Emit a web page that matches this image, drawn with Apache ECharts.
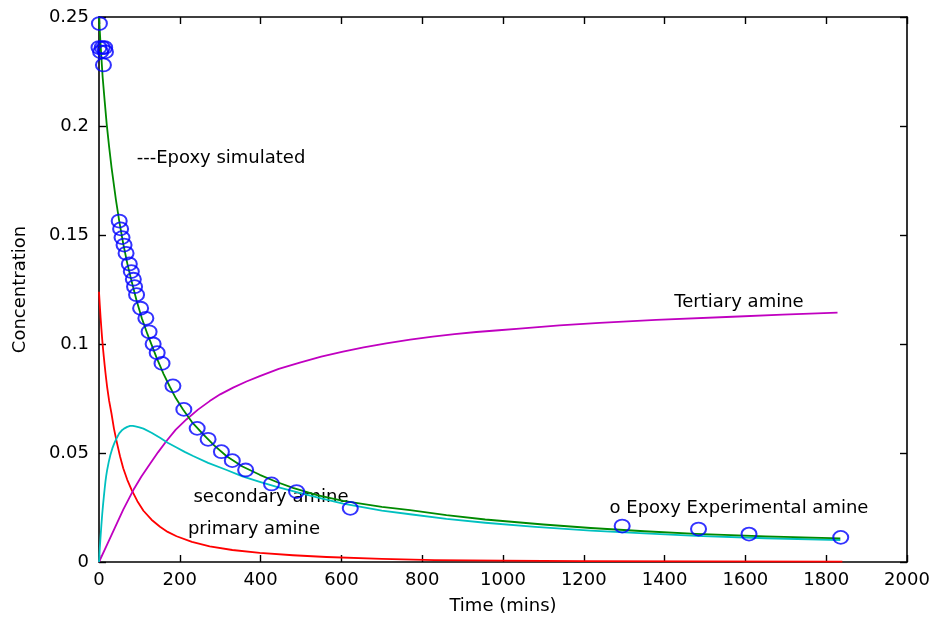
<!DOCTYPE html>
<html>
<head>
<meta charset="utf-8">
<script src="https://cdn.jsdelivr.net/npm/echarts@6/dist/echarts.min.js"></script>
<style>
html,body{margin:0;padding:0;background:#fff;}
#chart{width:934px;height:620px;}
</style>
</head>
<body>
<div id="chart"></div>
<script>
// ---- data ----
var xTicks = [0, 200, 400, 600, 800, 1000, 1200, 1400, 1600, 1800, 2000];
var yTicks = [0, 0.05, 0.1, 0.15, 0.2, 0.25];

// Epoxy simulated (green)
var epoxyT = [0, 4, 9, 14, 19, 25, 31, 42, 50, 60, 70, 80, 93, 106, 120, 143, 160, 175, 190, 208, 230, 258, 285, 316, 355, 398, 440, 480, 540, 604, 700, 770, 860, 956, 1100, 1217, 1350, 1478, 1650, 1835];
var epoxyC = [0.25, 0.237, 0.2225, 0.2115, 0.201, 0.1905, 0.181, 0.166, 0.1565, 0.146, 0.137, 0.1293, 0.120, 0.1118, 0.1045, 0.0935, 0.0862, 0.0805, 0.0752, 0.070, 0.0642, 0.0585, 0.0535, 0.0485, 0.0438, 0.040, 0.0367, 0.034, 0.0307, 0.028, 0.0253, 0.0238, 0.0215, 0.0195, 0.0172, 0.0156, 0.0141, 0.0129, 0.0118, 0.0108];

// Secondary amine (cyan)
var secT = [0, 2, 4, 6, 8, 10, 12, 14, 16, 18, 20, 24, 28, 33, 38, 44, 50, 56, 62, 70, 77, 84, 90, 100, 110, 130, 151, 170, 192, 212, 233, 270, 316, 355, 398, 440, 480, 540, 604, 700, 770, 860, 956, 1080, 1217, 1350, 1478, 1650, 1835];
var secC = [0, 0.0065, 0.012, 0.0172, 0.022, 0.0262, 0.030, 0.0336, 0.037, 0.0397, 0.042, 0.0458, 0.049, 0.0521, 0.0545, 0.0569, 0.059, 0.0603, 0.0612, 0.0620, 0.0624, 0.0624, 0.0622, 0.0618, 0.0612, 0.0593, 0.057, 0.0547, 0.0525, 0.0505, 0.0486, 0.0455, 0.0422, 0.0393, 0.0368, 0.0345, 0.0325, 0.0296, 0.0268, 0.0236, 0.0219, 0.0198, 0.018, 0.0161, 0.0144, 0.0131, 0.012, 0.0109, 0.0101];

// Primary amine (red)
var priT = [0, 2, 4, 6, 8, 10, 12, 14, 16, 18, 20, 25, 31, 37, 44, 52, 60, 70, 81, 95, 110, 130, 151, 170, 192, 230, 274, 330, 398, 480, 563, 700, 830, 1000, 1200, 1500, 1840];
var priC = [0.124, 0.1178, 0.112, 0.1068, 0.102, 0.0978, 0.094, 0.0903, 0.0868, 0.0836, 0.0805, 0.074, 0.068, 0.0612, 0.055, 0.0485, 0.043, 0.0377, 0.033, 0.0279, 0.0235, 0.0194, 0.0162, 0.0138, 0.0118, 0.0092, 0.0072, 0.0055, 0.0042, 0.0031, 0.0023, 0.0014, 0.0009, 0.0006, 0.0004, 0.0003, 0.0002];

// Tertiary amine (magenta)
var terT = [0, 20, 40, 60, 85, 105, 126, 146, 167, 190, 217, 245, 274, 300, 332, 365, 398, 445, 497, 550, 604, 655, 711, 770, 826, 880, 934, 990, 1041, 1140, 1239, 1379, 1568, 1692, 1828];
var terC = [0, 0.008, 0.016, 0.024, 0.033, 0.0392, 0.045, 0.0503, 0.0555, 0.0607, 0.0655, 0.0699, 0.0738, 0.0769, 0.080, 0.0828, 0.0853, 0.0886, 0.0915, 0.0942, 0.0965, 0.0985, 0.1003, 0.102, 0.1034, 0.1045, 0.1055, 0.1063, 0.1071, 0.1085, 0.1097, 0.1111, 0.1125, 0.1135, 0.1144];

// Epoxy experimental (blue circles)
var expT = [1, 0, 4, 8, 14, 16, 11, 50, 53.5, 57, 62, 67, 75, 80, 85, 88, 93, 103, 116, 124, 134, 144, 156, 183, 210, 243, 270, 303, 330, 363, 427, 489, 622, 1295, 1484, 1609, 1836];
var expC = [0.247, 0.236, 0.234, 0.236, 0.236, 0.234, 0.228, 0.1564, 0.1528, 0.1488, 0.1454, 0.1416, 0.1367, 0.1332, 0.1297, 0.1263, 0.1226, 0.1164, 0.1118, 0.1056, 0.100, 0.096, 0.0911, 0.0808, 0.070, 0.0613, 0.0563, 0.0506, 0.0465, 0.0422, 0.0358, 0.0323, 0.0246, 0.0165, 0.0151, 0.0128, 0.0113];

var xTitle = 'Time (mins)';
var yTitle = 'Concentration';

function zip(a, b) { return a.map(function (v, i) { return [v, b[i]]; }); }

var FONT = 'DejaVu Sans';
var FS = 18;
var chart = echarts.init(document.getElementById('chart'), null, {renderer: 'canvas'});

function lineSeries(name, t, c, color) {
  return {
    name: name, type: 'line', data: zip(t, c), showSymbol: false, symbol: 'none',
    smooth: false,
    lineStyle: {color: color, width: 1.8, join: 'round'}, z: 2, animation: false
  };
}

var axisCommon = {
  min: 0,
  axisLine: {show: true, onZero: false, lineStyle: {color: '#000', width: 1.6}},
  axisTick: {show: true, inside: true, length: 7, lineStyle: {color: '#000', width: 1.4}},
  splitLine: {show: false}
};

var option = {
  backgroundColor: '#fff',
  animation: false,
  grid: {left: 99, right: 27, top: 17, bottom: 58, containLabel: false},
  xAxis: [
    Object.assign({}, axisCommon, {
      type: 'value', max: 2000, interval: 200, position: 'bottom',
      axisLabel: {show: true, color: '#000', fontFamily: FONT, fontSize: FS, margin: 9,
        formatter: function (v) { return xTicks.indexOf(v) >= 0 ? String(v) : ''; }},
      name: xTitle, nameLocation: 'middle', nameGap: 35,
      nameTextStyle: {color: '#000', fontFamily: FONT, fontSize: FS}
    }),
    Object.assign({}, axisCommon, {
      type: 'value', max: 2000, interval: 200, position: 'top',
      axisLabel: {show: false}
    })
  ],
  yAxis: [
    Object.assign({}, axisCommon, {
      type: 'value', max: 0.25, interval: 0.05, position: 'left',
      axisLabel: {show: true, color: '#000', fontFamily: FONT, fontSize: FS, margin: 10,
        formatter: function (v) {
          var r = Math.round(v * 100) / 100;
          for (var i = 0; i < yTicks.length; i++) if (Math.abs(yTicks[i] - r) < 1e-9) return String(yTicks[i]);
          return '';
        }},
      name: yTitle, nameLocation: 'middle', nameGap: 70,
      nameTextStyle: {color: '#000', fontFamily: FONT, fontSize: FS}
    }),
    Object.assign({}, axisCommon, {
      type: 'value', max: 0.25, interval: 0.05, position: 'right',
      axisLabel: {show: false}
    })
  ],
  series: [
    lineSeries('Primary amine', priT, priC, '#ff0000'),
    lineSeries('Tertiary amine', terT, terC, '#c000c0'),
    lineSeries('Secondary amine', secT, secC, '#00c0c0'),
    lineSeries('Epoxy simulated', epoxyT, epoxyC, '#008a00'),
    {
      name: 'Epoxy experimental', type: 'scatter', data: zip(expT, expC),
      symbol: 'circle', symbolSize: [15, 13],
      itemStyle: {color: 'rgba(0,0,0,0)', borderColor: '#0000ff', borderWidth: 1.9},
      z: 5, animation: false
    }
  ],
  graphic: [
    {type: 'text', x: 221, y: 158, style: {text: '---Epoxy simulated', align: 'center', verticalAlign: 'middle', fontFamily: FONT, fontSize: FS, fill: '#000'}},
    {type: 'text', x: 739, y: 302, style: {text: 'Tertiary amine', align: 'center', verticalAlign: 'middle', fontFamily: FONT, fontSize: FS, fill: '#000'}},
    {type: 'text', x: 271, y: 497, style: {text: 'secondary amine', align: 'center', verticalAlign: 'middle', fontFamily: FONT, fontSize: FS, fill: '#000'}},
    {type: 'text', x: 254, y: 529, style: {text: 'primary amine', align: 'center', verticalAlign: 'middle', fontFamily: FONT, fontSize: FS, fill: '#000'}},
    {type: 'text', x: 739, y: 508, style: {text: 'o Epoxy Experimental amine', align: 'center', verticalAlign: 'middle', fontFamily: FONT, fontSize: FS, fill: '#000'}}
  ]
};
chart.setOption(option);
</script>
</body>
</html>
